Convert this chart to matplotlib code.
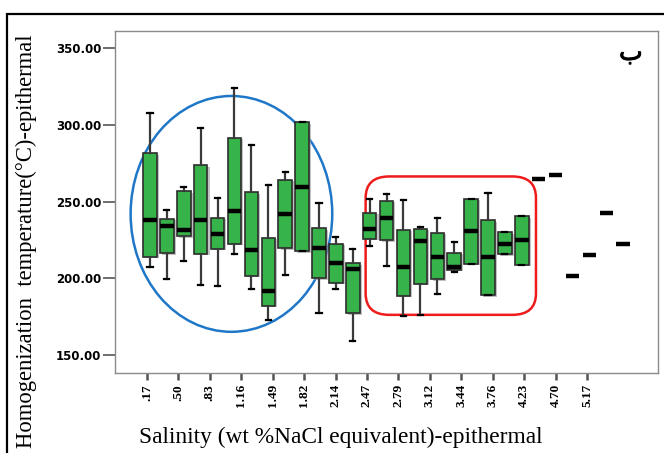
import numpy as np
import matplotlib
matplotlib.use('Agg')
import matplotlib.pyplot as plt
import matplotlib.patheffects as pe
from matplotlib.patches import Ellipse, FancyBboxPatch, Rectangle

# box stats, one entry per salinity group
whis_lo = [207.6, 199.4, 211.2, 195.5, 195.0, 216.0, 193.3, 172.7, 202.1, 217.7,
           177.1, 193.3, 159.3, 221.0, 208.0, 175.5, 176.2, 189.6, 204.1, 209.5,
           189.0, 215.6, 208.9, 264.7, 267.1, 201.5, 214.9, 242.7, 222.1]
q1 = [214.1, 216.2, 227.5, 216.0, 219.3, 222.7, 201.5, 182.0, 219.5, 217.7,
      200.0, 197.2, 177.3, 225.8, 224.9, 188.5, 196.5, 199.4, 205.4, 209.5,
      189.0, 215.6, 208.9, 264.7, 267.1, 201.5, 214.9, 242.7, 222.1]
med = [238.3, 234.0, 231.8, 238.3, 229.2, 243.7, 218.2, 191.8, 242.0, 259.5,
       220.0, 209.7, 206.3, 232.3, 239.0, 207.1, 224.2, 214.1, 207.6, 231.0,
       213.8, 222.7, 224.9, 264.7, 267.1, 201.5, 214.9, 242.7, 222.1]
q3 = [281.6, 238.7, 256.7, 273.6, 239.4, 291.4, 256.1, 226.4, 264.3, 301.7,
      232.5, 222.5, 209.7, 242.7, 250.7, 231.8, 232.3, 229.7, 216.7, 252.0,
      237.9, 230.1, 240.5, 264.7, 267.1, 201.5, 214.9, 242.7, 222.1]
whis_hi = [307.6, 244.4, 259.3, 297.8, 252.4, 323.8, 286.6, 261.0, 269.3, 301.7,
           249.2, 226.8, 218.8, 252.0, 255.2, 251.3, 233.6, 239.0, 223.8, 252.0,
           255.7, 230.1, 240.5, 264.7, 267.1, 201.5, 214.9, 242.7, 222.1]

tick_labels = ['.17', '.50', '.83', '1.16', '1.49', '1.82', '2.14', '2.47',
               '2.79', '3.12', '3.44', '3.76', '4.23', '4.70', '5.17']
y_ticks = [150, 200, 250, 300, 350]

serif = 'Liberation Serif'

fig = plt.figure(figsize=(6.64, 4.53), dpi=100)
ax = fig.add_axes([115/664, 1-373/453, (658-115)/664, (373-31)/453])

stats = []
for i in range(len(med)):
    stats.append(dict(whislo=whis_lo[i], q1=q1[i], med=med[i], q3=q3[i],
                      whishi=whis_hi[i], fliers=[]))

pos = np.arange(len(stats))
bp = ax.bxp(stats, positions=pos, widths=0.8, patch_artist=True, capwidths=0.3,
            boxprops=dict(facecolor='#37b449', edgecolor='#2d2d2d', linewidth=1.2),
            medianprops=dict(color='black', linewidth=3.2, solid_capstyle='butt'),
            whiskerprops=dict(color='#3a3a3a', linewidth=1.6),
            capprops=dict(color='black', linewidth=1.6))
# faint grey shadow on the right of each box, as in the SPSS output
for b in bp['boxes']:
    b.set_path_effects([pe.SimplePatchShadow(offset=(1.5, -1), shadow_rgbFace='#9a9a9a', alpha=0.6),
                        pe.Normal()])

ax.set_xlim(-2.07, 30.06)
ax.set_ylim(138.3, 361.2)

# labelled ticks do not sit on the groups, they are spread evenly
ax.set_xticks(-0.18 + 1.86*np.arange(len(tick_labels)))
ax.set_xticklabels(tick_labels, rotation=90, fontsize=9.5, family=serif, fontweight='bold')
ax.set_yticks(y_ticks)
ax.set_yticklabels(['%.2f' % v for v in y_ticks], fontsize=8.5, family='DejaVu Sans', fontweight='bold')
ax.tick_params(axis='x', length=5, width=1.8, color='#555555', pad=3)
ax.tick_params(axis='y', length=9, width=1.2, color='#555555', pad=1)
for s in ax.spines.values():
    s.set_color('#8a8a8a')
    s.set_linewidth(1.0)

ax.set_xlabel('Salinity (wt %NaCl equivalent)-epithermal', family=serif, fontsize=16.8)
ax.xaxis.set_label_coords(0.416, -0.158)
ax.set_ylabel('Homogenization  temperature(°C)-epithermal', family=serif, fontsize=16.3)
ax.yaxis.set_label_coords(-0.144, 0.385)

# highlighted groups
ax.add_patch(Ellipse((4.82, 242.0), 11.93, 153.7, fill=False, edgecolor='#1f77c8', linewidth=1.8))
ax.add_patch(FancyBboxPatch((12.76, 176.2), 22.84-12.76, 266.4-176.2,
                            boxstyle='round,pad=0,rounding_size=1.4', mutation_aspect=10,
                            fill=False, edgecolor='#ee1c1c', linewidth=1.8))

ax.text(0.95, 0.936, 'ب', transform=ax.transAxes, fontsize=18,
        family='DejaVu Sans', ha='center', va='center',
        path_effects=[pe.withStroke(linewidth=0.7, foreground='black')])

fig.patches.append(Rectangle((7/664, -0.05), 1.1, 1-14/453+0.05, transform=fig.transFigure,
                             fill=False, edgecolor='black', linewidth=1.6))

fig.savefig('out.png', dpi=100)
